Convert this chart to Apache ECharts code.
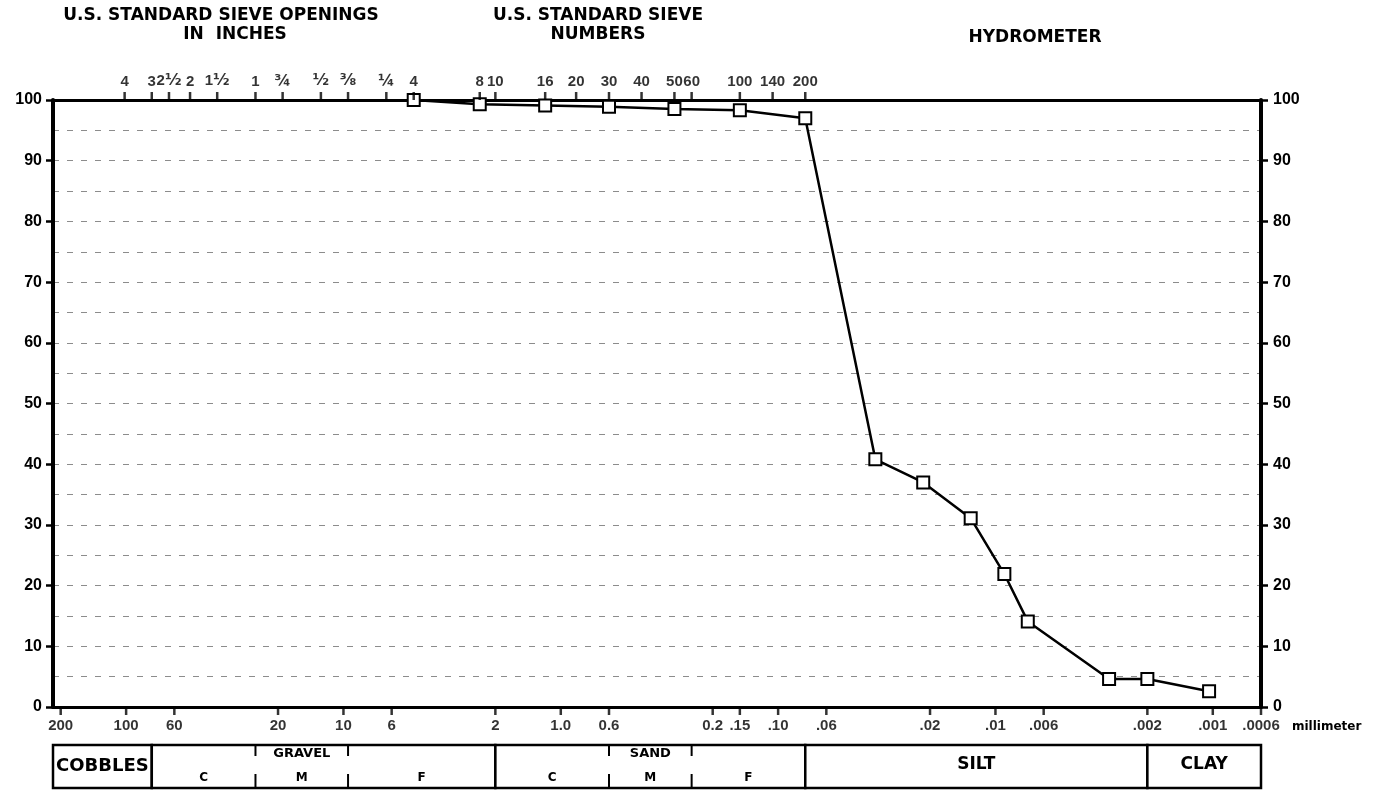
<!DOCTYPE html>
<html><head><meta charset="utf-8">
<script src="https://cdn.jsdelivr.net/npm/echarts@6/dist/echarts.min.js"></script>
<style>html,body{margin:0;padding:0;background:#fff}#c{width:1398px;height:790px}</style>
</head><body><div id="c"></div>
<script>
// ---- data ----
const sizeMm = [4.75, 2.36, 1.18, 0.6, 0.3, 0.15, 0.075, 0.0357, 0.0215, 0.0130, 0.0091, 0.0071, 0.0030, 0.0020, 0.00104];
const percentFiner = [100, 99.3, 99.1, 98.9, 98.5, 98.3, 97.0, 40.8, 37.0, 31.1, 21.9, 14.1, 4.6, 4.6, 2.6];

const bottomTickValues = [200, 100, 60, 20, 10, 6, 2, 1, 0.6, 0.2, 0.15, 0.1, 0.06, 0.02, 0.01, 0.006, 0.002, 0.001, 0.0006];
const bottomTickLabels = ['200', '100', '60', '20', '10', '6', '2', '1.0', '0.6', '0.2', '.15', '.10', '.06', '.02', '.01', '.006', '.002', '.001', '.0006'];

const topTickValues = [101.6, 76.2, 63.5, 50.8, 38.1, 25.4, 19.05, 12.7, 9.525, 6.35, 4.75, 2.36, 2.0, 1.18, 0.85, 0.6, 0.425, 0.3, 0.25, 0.15, 0.106, 0.075];
const topTickLabels = ['4', '3', '2½', '2', '1½', '1', '¾', '½', '⅜', '¼', '4', '8', '10', '16', '20', '30', '40', '50', '60', '100', '140', '200'];

const groupNames = ['COBBLES', '', '', 'SILT', 'CLAY'];
const groupFrom = [217, 76.2, 2.0, 0.075, 0.002];
const groupTo = [76.2, 2.0, 0.075, 0.002, 0.0006];

const subNames = ['C', 'M', 'F', 'C', 'M', 'F'];
const subTopNames = ['', 'GRAVEL', '', '', 'SAND', ''];
const subFrom = [76.2, 25.4, 9.525, 2.0, 0.6, 0.25];
const subTo = [25.4, 9.525, 2.0, 0.6, 0.25, 0.075];
const subHasDivider = [false, true, true, false, true, true];

const X_MIN = 0.0006, X_MAX = 217;
const FONT = '"DejaVu Sans", "Liberation Sans", sans-serif';
const TICKFONT = '"Liberation Sans", "DejaVu Sans", sans-serif';

const chart = echarts.init(document.getElementById('c'), null, {renderer: 'canvas'});

const gridDash = {color: '#8c8c8c', width: 1, type: [6, 8]};
const boldLabel = {fontFamily: TICKFONT, fontWeight: 'bold', fontSize: 15, color: '#000'};

function logX(grid, pos, show) {
  return {
    type: 'log', logBase: 10, gridIndex: grid, position: pos, inverse: true,
    min: X_MIN, max: X_MAX, show: show,
    axisLine: {show: true, onZero: false, lineStyle: {color: '#000', width: 3}},
    axisTick: {show: false}, axisLabel: {show: false},
    splitLine: {show: false}, minorSplitLine: {show: false}
  };
}

function title(text, x, y, size, align) {
  return {type: 'text', x: x, y: y, style: {text: text, font: 'bold ' + size + 'px ' + FONT, fill: '#000', textAlign: align || 'center', textVerticalAlign: 'middle'}};
}

const option = {
  backgroundColor: '#fff',
  animation: false,
  grid: [
    {left: 53, right: 137, top: 100, bottom: 83},
    {left: 53, right: 137, top: 745, height: 43}
  ],
  xAxis: [logX(0, 'bottom', true), logX(0, 'top', true), logX(1, 'bottom', false)],
  yAxis: [
    {
      type: 'value', gridIndex: 0, position: 'left', min: 0, max: 100, interval: 10,
      axisLine: {show: true, onZero: false, lineStyle: {color: '#000', width: 4}},
      axisTick: {show: true, length: 7, lineStyle: {color: '#000', width: 2.5}},
      axisLabel: Object.assign({margin: 11}, boldLabel, {fontSize: 16}),
      splitLine: {show: true, lineStyle: gridDash},
      minorTick: {show: false, splitNumber: 2},
      minorSplitLine: {show: true, lineStyle: gridDash}
    },
    {
      type: 'value', gridIndex: 0, position: 'right', min: 0, max: 100, interval: 10,
      axisLine: {show: true, onZero: false, lineStyle: {color: '#000', width: 4}},
      axisTick: {show: true, length: 7, lineStyle: {color: '#000', width: 2.5}},
      axisLabel: Object.assign({margin: 12}, boldLabel, {fontSize: 16}),
      splitLine: {show: false}
    },
    {type: 'value', gridIndex: 1, min: 0, max: 1, show: false}
  ],
  graphic: [
    title('U.S. STANDARD SIEVE OPENINGS', 221, 16, 17),
    title('IN  INCHES', 235, 35, 17),
    title('U.S. STANDARD SIEVE', 598, 16, 17),
    title('NUMBERS', 598, 35, 17),
    title('HYDROMETER', 1035, 38, 17),
    title('millimeter', 1292, 727, 12, 'left')
  ],
  series: [
    {
      name: 'Percent finer', type: 'line', xAxisIndex: 0, yAxisIndex: 0, z: 5,
      data: sizeMm.map((d, i) => [d, percentFiner[i]]),
      symbol: 'emptyRect', symbolSize: 12, showAllSymbol: true,
      lineStyle: {color: '#000', width: 2.5},
      itemStyle: {color: '#000', borderColor: '#000', borderWidth: 2.5},
      emphasis: {disabled: true}, silent: true
    },
    {
      name: 'mm ticks', type: 'scatter', xAxisIndex: 0, yAxisIndex: 0, z: 6, clip: false, silent: true,
      data: bottomTickValues.map((v, i) => ({name: bottomTickLabels[i], value: [v, 0]})),
      symbol: 'rect', symbolSize: [2.5, 8], symbolOffset: [0, 4],
      itemStyle: {color: '#000'},
      label: Object.assign({show: true, position: 'bottom', distance: 3, formatter: '{b}'}, boldLabel),
      emphasis: {disabled: true}
    },
    {
      name: 'sieve ticks', type: 'scatter', xAxisIndex: 1, yAxisIndex: 0, z: 6, clip: false, silent: true,
      data: topTickValues.map((v, i) => ({name: topTickLabels[i], value: [v, 100]})),
      symbol: 'rect', symbolSize: [2.5, 8], symbolOffset: [0, -4],
      itemStyle: {color: '#000'},
      label: Object.assign({
        show: true, position: 'top', distance: 3,
        formatter: function (p) { return p.name.replace(/([½¾⅜¼])/g, '{f|$1}'); },
        rich: {f: {fontFamily: '"DejaVu Sans", sans-serif', fontWeight: 'bold', fontSize: 16, color: '#000'}}
      }, boldLabel),
      emphasis: {disabled: true}
    },
    {
      name: 'soil groups', type: 'custom', xAxisIndex: 2, yAxisIndex: 2, silent: true, clip: false,
      data: groupFrom.map((f, i) => [f, groupTo[i], 0, 1]),
      encode: {x: [0, 1], y: [2, 3]},
      renderItem: function (params, api) {
        const i = params.dataIndex;
        const a = api.coord([api.value(0), 1]);
        const b = api.coord([api.value(1), 0]);
        const x = Math.min(a[0], b[0]), w = Math.abs(b[0] - a[0]);
        const y = Math.min(a[1], b[1]), h = Math.abs(b[1] - a[1]);
        const name = groupNames[i];
        const big = name === 'COBBLES' ? 18 : 17;
        return {
          type: 'group',
          children: [
            {type: 'rect', shape: {x: x, y: y, width: w, height: h}, style: {fill: '#fff', stroke: '#000', lineWidth: 2.5}},
            {type: 'text', x: x + w / 2, y: y + h / 2 - (name === 'COBBLES' ? 0 : 2), style: {text: name, font: 'bold ' + big + 'px ' + FONT, fill: '#000', textAlign: 'center', textVerticalAlign: 'middle'}}
          ]
        };
      }
    },
    {
      name: 'soil subclasses', type: 'custom', xAxisIndex: 2, yAxisIndex: 2, silent: true, clip: false, z: 3,
      data: subFrom.map((f, i) => [f, subTo[i], 0, 1]),
      encode: {x: [0, 1], y: [2, 3]},
      renderItem: function (params, api) {
        const i = params.dataIndex;
        const a = api.coord([api.value(0), 1]);
        const b = api.coord([api.value(1), 0]);
        const x = Math.min(a[0], b[0]), w = Math.abs(b[0] - a[0]);
        const y = Math.min(a[1], b[1]), h = Math.abs(b[1] - a[1]);
        const children = [
          {type: 'text', x: x + w / 2, y: y + h - 10, style: {text: subNames[i], font: 'bold 12px ' + FONT, fill: '#000', textAlign: 'center', textVerticalAlign: 'middle'}},
          {type: 'text', x: x + w / 2, y: y + 9, style: {text: subTopNames[i], font: 'bold 13px ' + FONT, fill: '#000', textAlign: 'center', textVerticalAlign: 'middle'}}
        ];
        if (subHasDivider[i]) {
          children.push({type: 'line', shape: {x1: x, y1: y, x2: x, y2: y + 11}, style: {stroke: '#000', lineWidth: 2}});
          children.push({type: 'line', shape: {x1: x, y1: y + 29, x2: x, y2: y + h}, style: {stroke: '#000', lineWidth: 2}});
        }
        return {type: 'group', children: children};
      }
    }
  ]
};
chart.setOption(option);
</script>
</body></html>
